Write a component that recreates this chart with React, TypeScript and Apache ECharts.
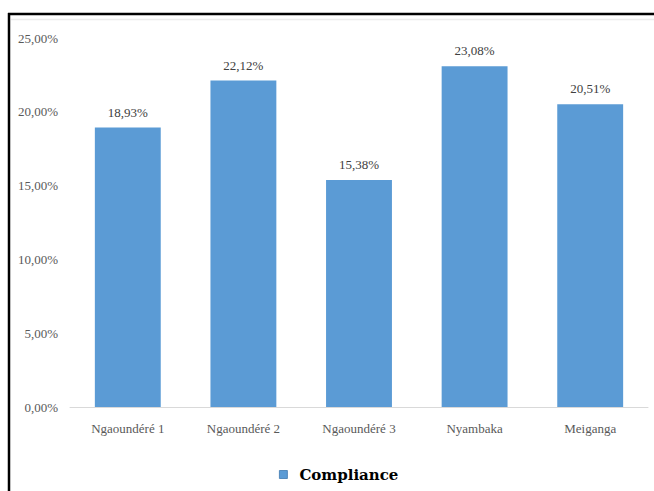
import React, { useEffect, useRef } from "react";
import * as echarts from "echarts";

const categories = ["Ngaoundéré 1", "Ngaoundéré 2", "Ngaoundéré 3", "Nyambaka", "Meiganga"];
const complianceValues = [18.93, 22.12, 15.38, 23.08, 20.51];
const seriesName = "Compliance";

const SERIF = "Liberation Serif";
const pct = (v: number) => v.toFixed(2).replace(".", ",") + "%";

export default function App() {
  const ref = useRef<HTMLDivElement>(null);

  useEffect(() => {
    if (!ref.current) return;
    const chart = echarts.init(ref.current, undefined, { renderer: "svg" });
    chart.setOption({
      animation: false,
      backgroundColor: "#ffffff",
      grid: { left: 70, right: 6, top: 38, bottom: 84 },
      xAxis: {
        type: "category",
        data: categories,
        axisLine: { lineStyle: { color: "#d9d9d9", width: 1 } },
        axisTick: { show: false },
        axisLabel: {
          color: "#595959",
          fontSize: 13,
          margin: 15,
          fontFamily: SERIF,
        },
      },
      yAxis: {
        type: "value",
        min: 0,
        max: 25,
        interval: 5,
        splitLine: { show: false },
        axisLine: { show: false },
        axisTick: { show: false },
        axisLabel: {
          color: "#595959",
          fontSize: 13,
          margin: 12,
          fontFamily: SERIF,
          formatter: (v: number) => pct(v),
        },
      },
      legend: {
        data: [seriesName],
        left: 274,
        top: 462,
        icon: "rect",
        itemWidth: 8,
        itemHeight: 8,
        itemGap: 8,
        itemStyle: { borderColor: "#3f78b0", borderWidth: 0.8 },
        textStyle: {
          color: "#000000",
          fontSize: 15,
          fontWeight: "bold",
          fontFamily: "DejaVu Serif",
          padding: [0, 0, 0, 7],
        },
      },
      series: [
        {
          name: seriesName,
          type: "bar",
          data: complianceValues,
          barCategoryGap: "43%",
          itemStyle: { color: "#5b9bd5" },
          label: {
            show: true,
            position: "top",
            distance: 9,
            color: "#404040",
            fontSize: 13,
            fontFamily: SERIF,
            formatter: (p: any) => pct(p.value),
          },
        },
      ],
      graphic: [
        {
          type: "line",
          shape: { x1: 8, y1: 14, x2: 654, y2: 14 },
          style: { stroke: "#000000", lineWidth: 2.5 },
        },
        {
          type: "line",
          shape: { x1: 9, y1: 13, x2: 9, y2: 491 },
          style: { stroke: "#000000", lineWidth: 2.5 },
        },
        {
          type: "line",
          shape: { x1: 11, y1: 19.5, x2: 654, y2: 19.5 },
          style: { stroke: "#ececec", lineWidth: 1.5 },
        },
      ],
    });
    return () => chart.dispose();
  }, []);

  return (
    <div
      ref={ref}
      style={{ position: "absolute", left: 0, top: 0, width: 654, height: 491 }}
    />
  );
}
